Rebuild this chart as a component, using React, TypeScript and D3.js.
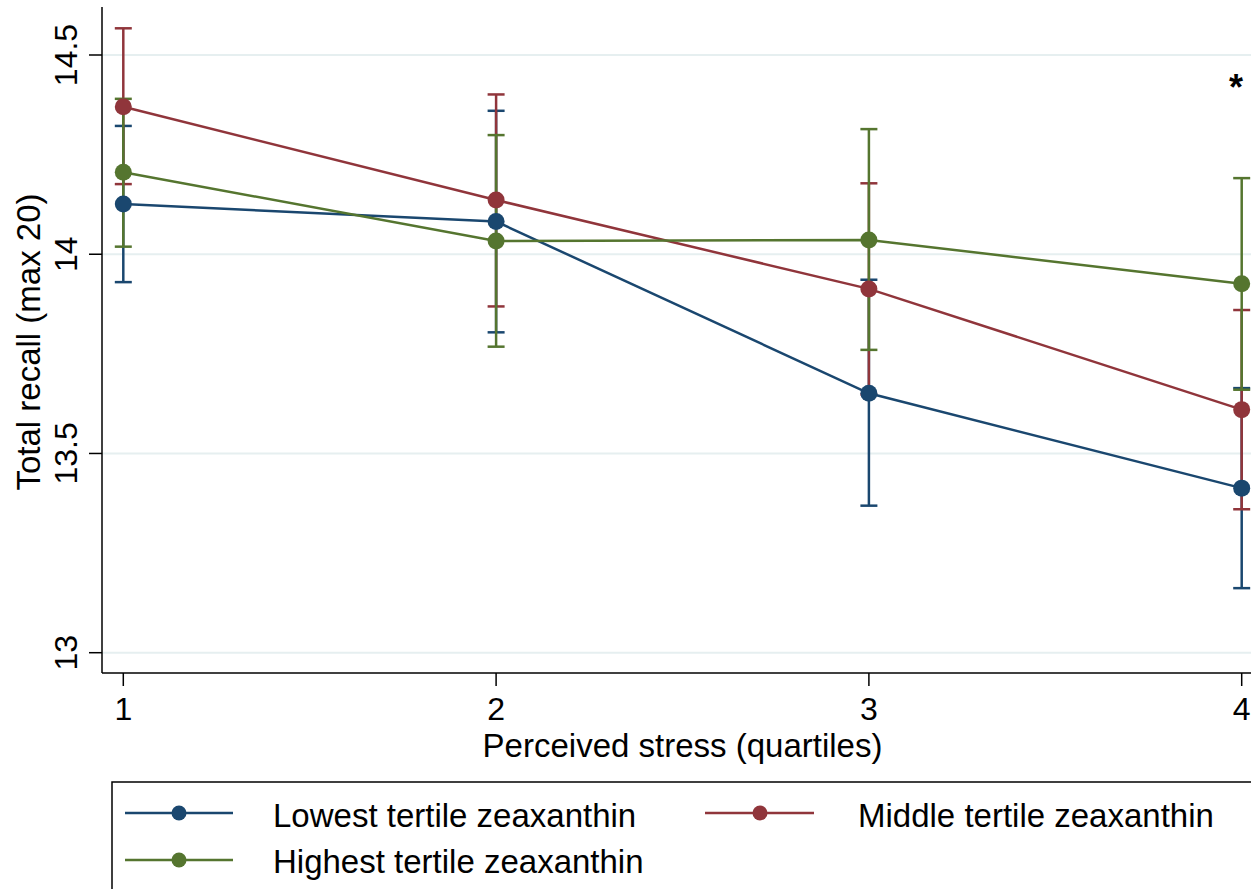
import React from "react";
import * as d3 from "d3";

const quartiles = [1, 2, 3, 4];
const yTicks = [13, 13.5, 14, 14.5];

const seriesNames = ["Lowest tertile zeaxanthin", "Middle tertile zeaxanthin", "Highest tertile zeaxanthin"];
const seriesColors = ["#1a476f", "#90353b", "#55752f"];

const lowestMean = [14.126, 14.082, 13.651, 13.413];
const lowestLo = [13.930, 13.804, 13.369, 13.162];
const lowestHi = [14.322, 14.360, 13.936, 13.664];

const middleMean = [14.370, 14.136, 13.913, 13.610];
const middleLo = [14.176, 13.869, 13.648, 13.360];
const middleHi = [14.567, 14.401, 14.178, 13.860];

const highestMean = [14.206, 14.033, 14.036, 13.926];
const highestLo = [14.019, 13.768, 13.760, 13.660];
const highestHi = [14.390, 14.299, 14.314, 14.191];

const means = [lowestMean, middleMean, highestMean];
const los = [lowestLo, middleLo, highestLo];
const his = [lowestHi, middleHi, highestHi];

const FONT = "'Liberation Sans', Arial, Helvetica, sans-serif";

export default function App() {
  const W = 1251, H = 889;
  const plotLeft = 102, plotTop = 7, plotBottom = 673, plotRight = 1251;
  const x = d3.scaleLinear().domain([1, 4]).range([123.3, 1241.7]);
  const y = d3.scaleLinear().domain([13, 14.5]).range([652.7, 55]);
  const line = d3.line<number>().x((_, i) => x(quartiles[i])).y((d) => y(d));
  const cap = 8.5;

  const legendItems = [
    { idx: 0, lx: 125, rx: 233, mx: 179, tx: 273, cy: 813, by: 827 },
    { idx: 1, lx: 705, rx: 814, mx: 760, tx: 858, cy: 813, by: 827 },
    { idx: 2, lx: 125, rx: 233, mx: 179, tx: 273, cy: 860, by: 873 },
  ];

  return (
    <svg width={W} height={H} style={{ position: "absolute", left: 0, top: 0, background: "#fff" }} fontFamily={FONT}>
      <rect x={0} y={0} width={W} height={H} fill="#fff" />
      {yTicks.map((t) => (
        <line key={"g" + t} x1={plotLeft} x2={plotRight} y1={y(t)} y2={y(t)} stroke="#e6eff0" strokeWidth={2} />
      ))}
      {/* axes */}
      <line x1={plotLeft} x2={plotLeft} y1={plotTop} y2={plotBottom} stroke="#000" strokeWidth={1.5} />
      <line x1={plotLeft} x2={plotRight} y1={plotBottom} y2={plotBottom} stroke="#000" strokeWidth={1.5} />
      {yTicks.map((t) => (
        <g key={"yt" + t}>
          <line x1={89} x2={plotLeft} y1={y(t)} y2={y(t)} stroke="#000" strokeWidth={1.5} />
          <text transform={`translate(77,${y(t)}) rotate(-90)`} textAnchor="middle" fontSize={32} fill="#000">
            {String(t)}
          </text>
        </g>
      ))}
      {quartiles.map((q) => (
        <g key={"xt" + q}>
          <line x1={x(q)} x2={x(q)} y1={plotBottom} y2={686} stroke="#000" strokeWidth={1.5} />
          <text x={x(q)} y={720} textAnchor="middle" fontSize={32} fill="#000">
            {String(q)}
          </text>
        </g>
      ))}
      <text x={(x(1) + x(4)) / 2} y={757} textAnchor="middle" fontSize={33} fill="#000">
        Perceived stress (quartiles)
      </text>
      <text transform={`translate(40,342) rotate(-90)`} textAnchor="middle" fontSize={33} fill="#000">
        Total recall (max 20)
      </text>
      {/* error bars */}
      {means.map((_, s) => (
        <g key={"eb" + s} stroke={seriesColors[s]} strokeWidth={2.5}>
          {quartiles.map((q, i) => (
            <g key={i}>
              <line x1={x(q)} x2={x(q)} y1={y(los[s][i])} y2={y(his[s][i])} />
              <line x1={x(q) - cap} x2={x(q) + cap} y1={y(los[s][i])} y2={y(los[s][i])} />
              <line x1={x(q) - cap} x2={x(q) + cap} y1={y(his[s][i])} y2={y(his[s][i])} />
            </g>
          ))}
        </g>
      ))}
      {/* lines and markers */}
      {means.map((m, s) => (
        <g key={"ln" + s}>
          <path d={line(m) || ""} fill="none" stroke={seriesColors[s]} strokeWidth={2.5} />
          {m.map((v, i) => (
            <circle key={i} cx={x(quartiles[i])} cy={y(v)} r={8.5} fill={seriesColors[s]} />
          ))}
        </g>
      ))}
      <text x={1236} y={100} textAnchor="middle" fontSize={36} fontWeight="bold" fill="#000">
        *
      </text>
      {/* legend */}
      <rect x={112} y={782} width={1200} height={200} fill="#fff" stroke="#000" strokeWidth={1.5} />
      {legendItems.map((it) => (
        <g key={"lg" + it.idx}>
          <line x1={it.lx} x2={it.rx} y1={it.cy} y2={it.cy} stroke={seriesColors[it.idx]} strokeWidth={2.5} />
          <circle cx={it.mx} cy={it.cy} r={7.5} fill={seriesColors[it.idx]} />
          <text x={it.tx} y={it.by} fontSize={33} fill="#000">
            {seriesNames[it.idx]}
          </text>
        </g>
      ))}
    </svg>
  );
}
